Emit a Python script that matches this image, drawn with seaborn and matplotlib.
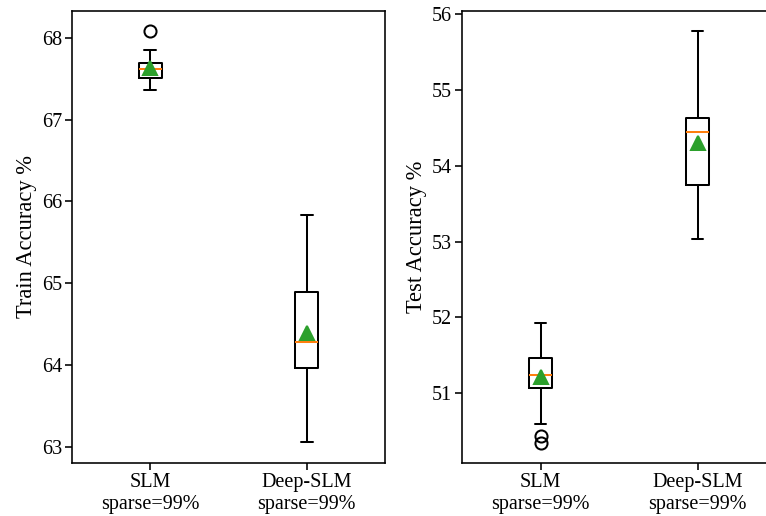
import matplotlib
matplotlib.use("Agg")
import matplotlib.pyplot as plt
import seaborn as sns
import pandas as pd

# ---- data (samples chosen to reproduce the box statistics) ----
categories = ["SLM\nsparse=99%", "Deep-SLM\nsparse=99%"]

train_slm = [67.36, 67.40, 67.51, 67.53, 67.62, 67.63, 67.69, 67.85, 68.08]
train_deep = [63.06, 63.60, 63.96, 64.10, 64.28, 64.50, 64.89, 65.29, 65.83]

test_slm = [50.34, 50.43, 50.59, 51.07, 51.22, 51.22, 51.24, 51.41, 51.45,
            51.46, 51.70, 51.80, 51.93]
test_deep = [53.03, 53.40, 53.74, 54.10, 54.45, 54.52, 54.63, 55.05, 55.78]

train_label = "Train Accuracy %"
test_label = "Test Accuracy %"

# ---- style ----
sns.set_style("ticks", {"axes.edgecolor": "black", "xtick.color": "black",
                        "ytick.color": "black", "text.color": "black",
                        "axes.labelcolor": "black"})
plt.rcParams["font.family"] = ["Liberation Serif", "DejaVu Serif"]
plt.rcParams["font.size"] = 10
plt.rcParams["xtick.major.size"] = 3.5
plt.rcParams["ytick.major.size"] = 3.5
plt.rcParams["xtick.major.pad"] = 1.5
plt.rcParams["ytick.major.pad"] = 1.5
plt.rcParams["axes.linewidth"] = 0.8

DPI = 145
fig = plt.figure(figsize=(766 / DPI, 516 / DPI), dpi=DPI)
W, H = 766, 516
ax1 = fig.add_axes([72 / W, (H - 463) / H, 313 / W, 452 / H])
ax2 = fig.add_axes([462 / W, (H - 463) / H, 314 / W, 452 / H])


def make_df(a, b):
    return pd.DataFrame({
        "model": [categories[0]] * len(a) + [categories[1]] * len(b),
        "acc": list(a) + list(b),
    })


box_kw = dict(
    width=0.15, fill=False, color="black", linewidth=1.0,
    showmeans=True, whis=1.5,
    medianprops=dict(color="#ff7f0e", linewidth=1.0),
    meanprops=dict(marker="^", markerfacecolor="#2ca02c",
                   markeredgecolor="#2ca02c", markersize=6.5),
    flierprops=dict(marker="o", markerfacecolor="none",
                    markeredgecolor="black", markersize=6),
    boxprops=dict(color="black", linewidth=1.0),
    whiskerprops=dict(color="black", linewidth=1.0),
    capprops=dict(color="black", linewidth=1.0),
)

sns.boxplot(data=make_df(train_slm, train_deep), x="model", y="acc",
            order=categories, ax=ax1, **box_kw)
sns.boxplot(data=make_df(test_slm, test_deep), x="model", y="acc",
            order=categories, ax=ax2, **box_kw)

ax1.set_ylim(62.80, 68.33)
ax2.set_ylim(50.08, 56.04)

for ax, lab in ((ax1, train_label), (ax2, test_label)):
    ax.set_xlim(-0.5, 1.5)
    ax.set_xlabel("")
    ax.set_ylabel(lab, fontsize=11.2, labelpad=2.5)
    for s in ax.spines.values():
        s.set_visible(True)
        s.set_color("black")

fig.savefig("out.png", dpi=DPI)
